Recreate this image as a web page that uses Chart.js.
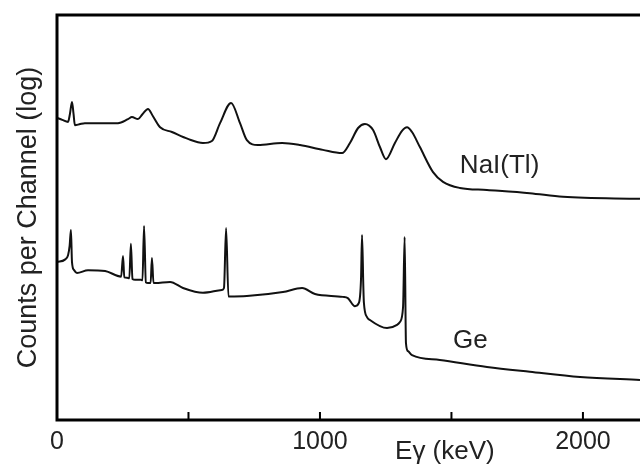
<!DOCTYPE html>
<html>
<head>
<meta charset="utf-8">
<script src="https://cdn.jsdelivr.net/npm/chart.js@4"></script>
<style>
  html, body { margin: 0; padding: 0; background: #fff; }
  #wrap { width: 640px; height: 464px; }
</style>
</head>
<body>
<div id="wrap"><canvas id="spectrum"></canvas></div>
<script>
// gamma energies (keV) and log-count levels for each detector trace
const naiEnergy = [0, 20, 42, 49, 57, 63, 68, 85, 106, 232, 270, 285, 308, 325, 346, 365, 392, 437, 498, 555, 589, 620, 662, 696, 722, 764, 856, 924, 1011, 1084, 1114, 1145, 1171, 1202, 1228, 1251, 1285, 1312, 1331, 1350, 1380, 1430, 1468, 1532, 1635, 1798, 1924, 2217];
const naiCounts = [74.6, 74.1, 73.6, 75.5, 78.5, 75.5, 72.8, 73.0, 73.3, 73.3, 74.3, 74.8, 74.3, 75.5, 76.8, 75.0, 72.3, 71.1, 69.4, 68.4, 68.9, 73.3, 78.3, 73.3, 69.1, 67.9, 68.4, 67.9, 66.7, 65.9, 68.4, 72.1, 73.1, 71.6, 67.4, 64.4, 68.4, 71.4, 72.3, 71.1, 67.4, 61.2, 58.8, 57.3, 56.8, 56.0, 55.1, 54.6];

const geEnergy = [0, 30, 42, 48, 53, 57, 65, 76, 118, 183, 244, 251, 256, 266, 275, 281, 287, 297, 319, 325, 331, 338, 346, 356, 361, 367, 373, 430, 479, 555, 627, 635, 643, 652, 722, 859, 932, 981, 1087, 1106, 1133, 1148, 1156, 1160, 1165, 1167, 1179, 1190, 1255, 1293, 1304, 1316, 1322, 1327, 1335, 1350, 1456, 1635, 1798, 1989, 2217];
const geCounts = [39.0, 39.6, 40.7, 43.0, 46.9, 39.0, 37.0, 36.3, 37.0, 36.8, 35.4, 40.5, 35.2, 35.1, 35.0, 43.5, 34.8, 34.6, 34.6, 34.5, 47.9, 34.0, 33.8, 33.8, 40.0, 33.8, 33.8, 34.1, 32.6, 31.4, 32.1, 32.6, 47.4, 30.5, 30.6, 31.6, 32.6, 31.1, 30.4, 30.1, 28.1, 28.9, 34.6, 45.7, 32.8, 29.0, 25.4, 24.7, 22.7, 23.5, 24.2, 27.9, 45.2, 19.0, 17.0, 16.0, 14.8, 13.1, 11.9, 10.6, 9.9];

const seriesNames = ['NaI(Tl)', 'Ge'];
const xTicks = [0, 500, 1000, 1500, 2000];
const xLabeled = [0, 1000, 2000];
const xTitle = 'E\u03b3 (keV)';
const yTitle = 'Counts per Channel (log)';

// where the trace names sit, in data units
const nameAt = [{ x: 1532, y: 62.7 }, { x: 1506, y: 19.5 }];

const ink = '#222';
const fontFamily = '"Liberation Sans", Arial, sans-serif';

const toPoints = (xs, ys) => xs.map((x, i) => ({ x, y: ys[i] }));

const frame = {
  id: 'frame',
  afterDraw(chart) {
    const { ctx, chartArea: a, scales: { x, y } } = chart;
    ctx.save();
    ctx.strokeStyle = '#000';
    ctx.lineCap = 'butt';

    // axes: left, bottom, top
    ctx.lineWidth = 3;
    ctx.beginPath();
    ctx.moveTo(a.left, a.top - 1.5); ctx.lineTo(a.left, a.bottom + 1.5);
    ctx.moveTo(a.left - 1.5, a.bottom); ctx.lineTo(chart.width, a.bottom);
    ctx.moveTo(a.left - 1.5, a.top); ctx.lineTo(chart.width, a.top);
    ctx.stroke();

    // inward ticks every 500 keV
    ctx.lineWidth = 2;
    ctx.beginPath();
    x.ticks.forEach((t) => {
      if (t.value <= 0) return;
      const px = x.getPixelForValue(t.value);
      ctx.moveTo(px, a.bottom); ctx.lineTo(px, a.bottom - 8);
    });
    ctx.stroke();

    // trace names and energy axis title
    ctx.fillStyle = ink;
    ctx.font = `26px ${fontFamily}`;
    ctx.textBaseline = 'middle';
    ctx.textAlign = 'left';
    seriesNames.forEach((name, i) => {
      ctx.fillText(name, x.getPixelForValue(nameAt[i].x), y.getPixelForValue(nameAt[i].y));
    });
    ctx.textAlign = 'center';
    ctx.fillText(xTitle, x.getPixelForValue(1475), 452);
    ctx.restore();
  },
};

new Chart(document.getElementById('spectrum'), {
  type: 'line',
  data: {
    datasets: [
      { label: seriesNames[0], data: toPoints(naiEnergy, naiCounts) },
      { label: seriesNames[1], data: toPoints(geEnergy, geCounts) },
    ],
  },
  options: {
    responsive: true,
    maintainAspectRatio: false,
    animation: false,
    layout: { padding: { top: 15, left: 0, right: 0, bottom: 0 } },
    elements: {
      line: { borderColor: '#111', borderWidth: 2, cubicInterpolationMode: 'monotone', fill: false },
      point: { radius: 0 },
    },
    plugins: { legend: { display: false }, tooltip: { enabled: false } },
    scales: {
      x: {
        type: 'linear',
        min: 0,
        max: 2217,
        grid: { display: false, drawTicks: false },
        border: { display: false },
        afterBuildTicks: (s) => { s.ticks = xTicks.map((value) => ({ value })); },
        ticks: {
          autoSkip: false,
          maxRotation: 0,
          padding: 7,
          color: ink,
          font: { family: fontFamily, size: 25 },
          callback: (v) => (xLabeled.includes(v) ? String(v) : ''),
        },
        afterFit: (s) => { s.height = 44; },
      },
      y: {
        type: 'linear',
        min: 0,
        max: 100,
        grid: { display: false, drawTicks: false },
        border: { display: false },
        ticks: { display: false },
        title: {
          display: true,
          text: yTitle,
          color: ink,
          font: { family: fontFamily, size: 27 },
          padding: { top: 12, bottom: 0 },
        },
        afterFit: (s) => { s.width = 57; },
      },
    },
  },
  plugins: [frame],
});
</script>
</body>
</html>
